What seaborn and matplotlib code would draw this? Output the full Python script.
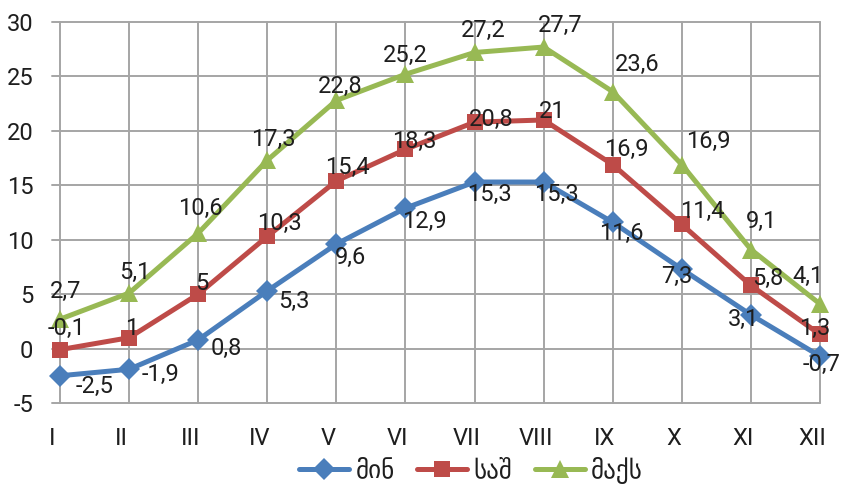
import numpy as np
import pandas as pd
import matplotlib
matplotlib.use("Agg")
import matplotlib.pyplot as plt
import matplotlib.transforms as mtransforms
import seaborn as sns

# ---- data ----
months = ["I", "II", "III", "IV", "V", "VI", "VII", "VIII", "IX", "X", "XI", "XII"]
series_names = ["მინ", "საშ", "მაქს"]
t_min = [-2.5, -1.9, 0.8, 5.3, 9.6, 12.9, 15.3, 15.3, 11.6, 7.3, 3.1, -0.7]
t_avg = [-0.1, 1, 5, 10.3, 15.4, 18.3, 20.8, 21, 16.9, 11.4, 5.8, 1.3]
t_max = [2.7, 5.1, 10.6, 17.3, 22.8, 25.2, 27.2, 27.7, 23.6, 16.9, 9.1, 4.1]
y_ticks = [-5, 0, 5, 10, 15, 20, 25, 30]

# ---- label offsets (pixels, right / down) ----
off_min = [(35, 11), (31, 5), (28, 9), (27, 11), (14, 13), (19, 13), (15, 12), (13, 12), (9, 11), (-5, 7), (-7, 5), (2, 8)]
off_avg = [(7, -21), (3, -9), (4, -11), (12, -13), (11, -13), (9, -8), (17, -3), (9, -8), (14, -15), (20, -13), (17, -7), (-5, -6)]
off_max = [(6, -28), (6, -21), (2, -25), (6, -21), (4, -14), (0, -19), (9, -22), (17, -22), (24, -27), (26, -23), (11, -28), (-12, -27)]

colors = {"მინ": "#4A7EBB", "საშ": "#BE4B48", "მაქს": "#98B954"}
markers = {"მინ": "D", "საშ": "s", "მაქს": "^"}

df = pd.DataFrame({
    "pos": list(range(12)) * 3,
    "val": t_min + t_avg + t_max,
    "series": [series_names[0]] * 12 + [series_names[1]] * 12 + [series_names[2]] * 12,
})

sns.set_style("white")
plt.rcParams["font.family"] = ["Roboto", "DejaVu Sans"]
plt.rcParams["font.weight"] = "normal"

fig = plt.figure(figsize=(8.43, 4.97), dpi=100)
ax = fig.add_axes([52 / 843, 1 - 403 / 497, (820 - 52) / 843, (403 - 22) / 497])

sns.lineplot(data=df, x="pos", y="val", hue="series", style="series",
             hue_order=series_names, style_order=series_names,
             palette=colors, markers=markers, dashes=False,
             linewidth=3.6, markersize=11, markeredgewidth=0,
             ax=ax, legend=False, zorder=3)
for ln in ax.lines:
    ln.set_clip_on(False)
    ln.set_markersize(13 if ln.get_marker() == "^" else 11)

ax.set_xlim(-0.116, 11)
ax.set_ylim(-5, 30)
ax.set_xticks(range(12))
ax.set_xticklabels(months)
ax.set_yticks(y_ticks)
ax.set_yticklabels([str(v) for v in y_ticks])
ax.set_xlabel("")
ax.set_ylabel("")
for s in ax.spines.values():
    s.set_visible(False)

# grid
grid_c = "#A5A5A5"
for v in y_ticks:
    ax.axhline(v, color=grid_c, lw=1.4, zorder=1, clip_on=False)
for i in range(12):
    ax.axvline(i, color=grid_c, lw=1.4, zorder=1, clip_on=False)

text_c = "#1E1E1E"
ax.tick_params(axis="both", length=0, labelsize=17, colors=text_c)
ax.tick_params(axis="y", pad=13.5)
ax.tick_params(axis="x", pad=17)
shift = mtransforms.ScaledTranslation(-8 / 100, 0, fig.dpi_scale_trans)
for lab in ax.get_xticklabels():
    lab.set_transform(lab.get_transform() + shift)


def fmt(v):
    s = ("%g" % v).replace(".", ",")
    return s


for vals, offs in ((t_min, off_min), (t_avg, off_avg), (t_max, off_max)):
    for i, (v, (dx, dy)) in enumerate(zip(vals, offs)):
        ax.annotate(fmt(v), (i, v), xytext=(dx * 0.72, -dy * 0.72),
                    textcoords="offset points", ha="center", va="center",
                    fontsize=17, color=text_c, zorder=5,
                    annotation_clip=False)

# legend
from matplotlib.lines import Line2D
handles = [Line2D([], [], color=colors[n], marker=markers[n], lw=3.6,
                  markersize=(13 if markers[n] == "^" else 11), markeredgewidth=0)
           for n in series_names]
leg = fig.legend(handles, series_names, loc="center", bbox_to_anchor=(471 / 843, 1 - 470 / 497),
                 ncol=3, frameon=False, handlelength=2.0, handletextpad=0.25,
                 columnspacing=0.9, prop={"family": ["DejaVu Sans"], "size": 18})
for t in leg.get_texts():
    t.set_color(text_c)

fig.savefig("out.png", dpi=100)
